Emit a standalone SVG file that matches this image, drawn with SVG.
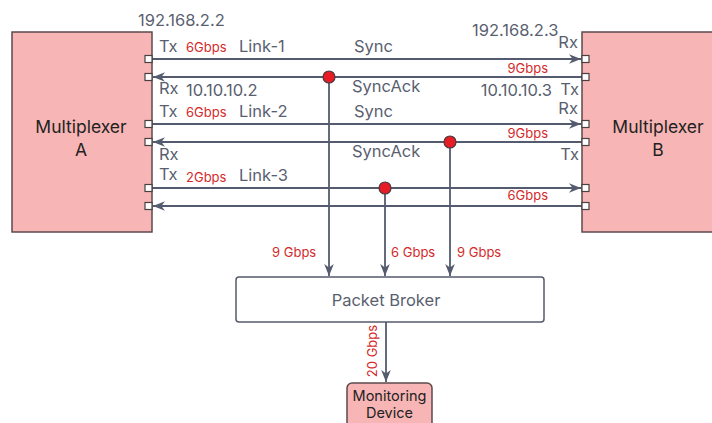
<svg xmlns="http://www.w3.org/2000/svg" width="712" height="423" viewBox="0 0 712 423">
<defs>
<style>
.box{fill:#f7b5b5;stroke:#5e4a4c;stroke-width:1.5}
.port{fill:#ffffff;stroke:#4a4040;stroke-width:1.2}
.ln{stroke:#555b6e;stroke-width:1.8;fill:none}
.dot{fill:#e81c24;stroke:#4a3a40;stroke-width:1.2}
.t{font-family:Inter,"Liberation Sans",sans-serif;font-size:16.5px;fill:#5a5f70}
.r{font-family:Inter,"Liberation Sans",sans-serif;font-size:13px;fill:#d42a2a}
.m{font-family:Inter,"Liberation Sans",sans-serif;font-size:17.5px;fill:#222222;text-anchor:middle}
.md{font-family:Inter,"Liberation Sans",sans-serif;font-size:14.5px;fill:#222222;text-anchor:middle}
</style>
<marker id="ah" viewBox="0 0 10 10" refX="10" refY="5" markerWidth="12" markerHeight="12" markerUnits="userSpaceOnUse" orient="auto">
<path d="M0,1 L10,5 L0,9 L3,5 Z" fill="#555b6e"/>
</marker>
</defs>
<rect width="712" height="423" fill="#ffffff"/>

<g id="connectors">
<line class="ln" x1="152" y1="59" x2="581" y2="59" marker-end="url(#ah)"/>
<line class="ln" x1="582" y1="77" x2="153" y2="77" marker-end="url(#ah)"/>
<line class="ln" x1="152" y1="124" x2="581" y2="124" marker-end="url(#ah)"/>
<line class="ln" x1="582" y1="142" x2="153" y2="142" marker-end="url(#ah)"/>
<line class="ln" x1="152" y1="188" x2="581" y2="188" marker-end="url(#ah)"/>
<line class="ln" x1="582" y1="206" x2="153" y2="206" marker-end="url(#ah)"/>
<line class="ln" x1="329" y1="77" x2="329" y2="276" marker-end="url(#ah)"/>
<line class="ln" x1="385" y1="188" x2="385" y2="276" marker-end="url(#ah)"/>
<line class="ln" x1="450" y1="142" x2="450" y2="276" marker-end="url(#ah)"/>
<line class="ln" x1="386" y1="322" x2="386" y2="382" marker-end="url(#ah)"/>
<circle class="dot" cx="329" cy="77" r="6"/>
<circle class="dot" cx="450" cy="142" r="6"/>
<circle class="dot" cx="385" cy="188" r="6"/>
<text class="r" x="272" y="257" font-size="14">9 Gbps</text>
<text class="r" x="391" y="257" font-size="14">6 Gbps</text>
<text class="r" x="457" y="257" font-size="14">9 Gbps</text>
<text class="r" transform="translate(377,351) rotate(-90)" text-anchor="middle" font-size="14.5">20 Gbps</text>
</g>

<g id="mux-a">
<rect class="box" x="12" y="32" width="140" height="200"/>
<rect class="port" x="145" y="55.5" width="7" height="7"/>
<rect class="port" x="145" y="73.5" width="7" height="7"/>
<rect class="port" x="145" y="120.5" width="7" height="7"/>
<rect class="port" x="145" y="138.5" width="7" height="7"/>
<rect class="port" x="145" y="184.5" width="7" height="7"/>
<rect class="port" x="145" y="202.5" width="7" height="7"/>
<text class="m" x="81" y="133">Multiplexer</text>
<text class="m" x="81" y="156">A</text>
</g>

<g id="mux-b">
<rect class="box" x="582" y="32" width="140" height="200"/>
<rect class="port" x="582" y="55.5" width="7" height="7"/>
<rect class="port" x="582" y="73.5" width="7" height="7"/>
<rect class="port" x="582" y="120.5" width="7" height="7"/>
<rect class="port" x="582" y="138.5" width="7" height="7"/>
<rect class="port" x="582" y="184.5" width="7" height="7"/>
<rect class="port" x="582" y="202.5" width="7" height="7"/>
<text class="m" x="658" y="133">Multiplexer</text>
<text class="m" x="658" y="156">B</text>
</g>

<g id="packet-broker">
<rect x="236" y="277" width="308" height="45" rx="3" fill="#ffffff" stroke="#555b6e" stroke-width="1.5"/>
<text class="t" x="386" y="306" text-anchor="middle" font-size="18.5">Packet Broker</text>
</g>

<g id="monitoring-device">
<rect class="box" x="347" y="383" width="85" height="50" rx="5"/>
<text class="md" x="389.5" y="401">Monitoring</text>
<text class="md" x="389.5" y="418">Device</text>
</g>

<g id="labels">
<text class="t" x="138" y="26" font-size="17.2">192.168.2.2</text>
<text class="t" x="472" y="36" font-size="17.2">192.168.2.3</text>
<text class="t" x="159" y="52">Tx</text>
<text class="r" x="186" y="52">6Gbps</text>
<text class="t" x="239" y="52">Link-1</text>
<text class="t" x="354" y="52">Sync</text>
<text class="t" x="578" y="48" text-anchor="end">Rx</text>
<text class="r" x="548" y="73" text-anchor="end">9Gbps</text>
<text class="t" x="159" y="94">Rx</text>
<text class="t" x="186" y="96">10.10.10.2</text>
<text class="t" x="352" y="92">SyncAck</text>
<text class="t" x="552" y="96" text-anchor="end">10.10.10.3</text>
<text class="t" x="579" y="95" text-anchor="end">Tx</text>
<text class="t" x="159" y="117">Tx</text>
<text class="r" x="186" y="117">6Gbps</text>
<text class="t" x="239" y="117">Link-2</text>
<text class="t" x="354" y="117">Sync</text>
<text class="t" x="578" y="114" text-anchor="end">Rx</text>
<text class="r" x="548" y="138" text-anchor="end">9Gbps</text>
<text class="t" x="159" y="160">Rx</text>
<text class="t" x="352" y="157">SyncAck</text>
<text class="t" x="579" y="160" text-anchor="end">Tx</text>
<text class="t" x="159" y="180">Tx</text>
<text class="r" x="186" y="182">2Gbps</text>
<text class="t" x="239" y="181">Link-3</text>
<text class="r" x="548" y="200" text-anchor="end">6Gbps</text>
</g>
</svg>
